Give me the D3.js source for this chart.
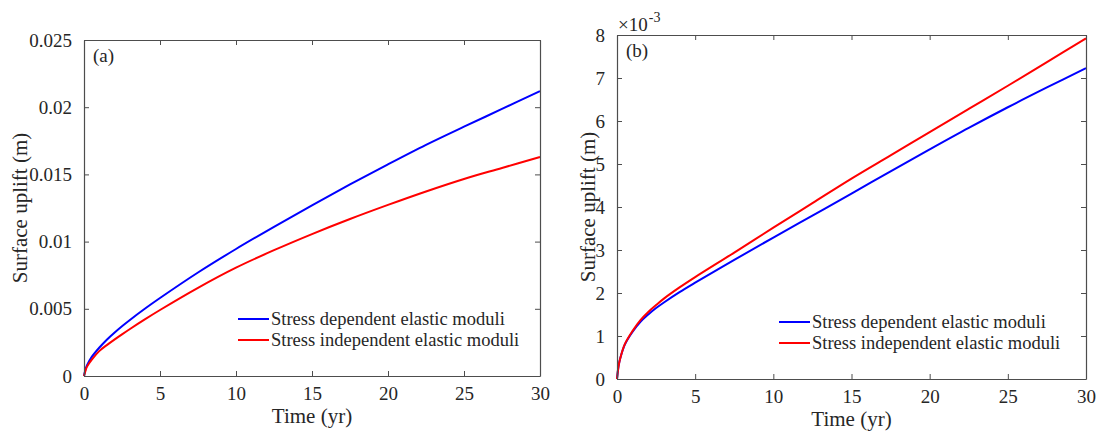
<!DOCTYPE html>
<html>
<head>
<meta charset="utf-8">
<script src="https://cdn.jsdelivr.net/npm/d3@7"></script>
</head>
<body style="margin:0;background:#fff">
<svg id="chart" width="1096" height="435" style="display:block"></svg>
<script>
// time samples (yr)
const timeYr = [0, 0.1, 0.2, 0.5, 1, 1.5, 2, 2.5, 3, 4, 5, 7.5, 10, 12.5, 15, 17.5, 20, 22.5, 25, 27.5, 30];

// panel (a) uplift (m)
const upliftA_dep = [0, 0.0005, 0.0008, 0.0014, 0.0021, 0.0027, 0.00322, 0.0037, 0.00415, 0.005, 0.0058,
  0.0077, 0.00945, 0.0111, 0.0127, 0.01425, 0.01575, 0.0172, 0.01855, 0.01987, 0.0212];
const upliftA_indep = [0, 0.0004, 0.0007, 0.0012, 0.00185, 0.0023, 0.00271, 0.0031, 0.00348, 0.00421, 0.00491,
  0.00656, 0.00806, 0.00936, 0.01056, 0.01168, 0.01273, 0.01373, 0.01466, 0.01548, 0.0163];

// panel (b) uplift (x10^-3 m)
const upliftB_dep = [0, 0.3, 0.47, 0.8, 1.1, 1.33, 1.5, 1.65, 1.78, 2.02, 2.24,
  2.77, 3.29, 3.8, 4.31, 4.83, 5.34, 5.84, 6.32, 6.78, 7.23];
const upliftB_indep = [0, 0.3, 0.47, 0.81, 1.12, 1.37, 1.56, 1.72, 1.87, 2.13, 2.37,
  2.94, 3.52, 4.09, 4.66, 5.2, 5.74, 6.28, 6.82, 7.37, 7.92];

const xTicks = [0, 5, 10, 15, 20, 25, 30];
const yTicksA = [0, 0.005, 0.01, 0.015, 0.02, 0.025];
const yTicksB = [0, 1, 2, 3, 4, 5, 6, 7, 8];
const seriesNames = ["Stress dependent elastic moduli", "Stress independent elastic moduli"];
const seriesColors = ["#0000ff", "#ff0000"];

const svg = d3.select("#chart");
const axisColor = "#4d4d4d";
const textColor = "#262626";
const serif = "'Liberation Serif'";

// helper: serif text with given size
function label(g, size) {
  return g.append("text")
    .style("font-family", serif)
    .style("font-size", size + "px")
    .attr("fill", textColor);
}

function drawPanel(p) {
  const g = svg.append("g");
  const x = d3.scaleLinear().domain([0, 30]).range([p.left, p.right]);
  const y = d3.scaleLinear().domain(p.yDomain).range([p.bottom, p.top]);

  // lines
  const line = d3.line()
    .x((d) => x(d[0]))
    .y((d) => y(d[1]))
    .curve(d3.curveCatmullRom.alpha(0.5));

  p.series.forEach((vals, i) => {
    g.append("path")
      .datum(timeYr.map((t, j) => [t, vals[j]]))
      .attr("fill", "none")
      .attr("stroke", seriesColors[i])
      .attr("stroke-width", 2)
      .attr("d", line);
  });

  // axes with inward ticks on all four sides
  const bottom = g.append("g").attr("transform", "translate(0," + p.bottom + ")")
    .call(d3.axisBottom(x).tickValues(xTicks).tickSizeInner(-5).tickSizeOuter(0).tickPadding(11));
  const top = g.append("g").attr("transform", "translate(0," + p.top + ")")
    .call(d3.axisTop(x).tickValues(xTicks).tickSizeInner(-5).tickSizeOuter(0).tickFormat(""));
  const left = g.append("g").attr("transform", "translate(" + p.left + ",0)")
    .call(d3.axisLeft(y).tickValues(p.yTicks).tickSizeInner(-5).tickSizeOuter(0).tickPadding(12)
      .tickFormat(p.yFormat));
  const right = g.append("g").attr("transform", "translate(" + p.right + ",0)")
    .call(d3.axisRight(y).tickValues(p.yTicks).tickSizeInner(-5).tickSizeOuter(0).tickFormat(""));

  [bottom, top, left, right].forEach((a) => {
    a.select(".domain").attr("stroke", axisColor).attr("stroke-width", 1.2);
    a.selectAll(".tick line").attr("stroke", axisColor);
    a.selectAll(".tick text")
      .style("font-family", serif)
      .style("font-size", "19px")
      .attr("fill", textColor);
  });

  // axis labels
  label(g, 21)
    .attr("x", (p.left + p.right) / 2)
    .attr("y", p.bottom + 47)
    .attr("text-anchor", "middle")
    .text("Time (yr)");

  label(g, 21)
    .attr("text-anchor", "middle")
    .attr("transform", "translate(" + p.yLabelX + "," + (p.top + p.bottom) / 2 + ")rotate(-90)")
    .text("Surface uplift (m)");

  // panel tag
  label(g, 19)
    .attr("x", p.left + 9)
    .attr("y", p.top + 22)
    .text(p.tag);

  // legend
  seriesNames.forEach((name, i) => {
    const ly = p.legendY + i * 21;
    g.append("line")
      .attr("x1", p.legendX).attr("x2", p.legendX + 31)
      .attr("y1", ly).attr("y2", ly)
      .attr("stroke", seriesColors[i])
      .attr("stroke-width", 2);
    label(g, 18.5)
      .attr("x", p.legendX + 33)
      .attr("y", ly + 6)
      .text(name);
  });

  return g;
}

drawPanel({
  left: 84, right: 540, top: 40, bottom: 376,
  yDomain: [0, 0.025], yTicks: yTicksA,
  yFormat: (d) => (d === 0 ? "0" : String(+d.toFixed(3))),
  series: [upliftA_dep, upliftA_indep],
  yLabelX: 27, tag: "(a)", legendX: 238, legendY: 319
});

const gb = drawPanel({
  left: 617, right: 1086, top: 35, bottom: 379,
  yDomain: [0, 8], yTicks: yTicksB,
  yFormat: d3.format("d"),
  series: [upliftB_dep, upliftB_indep],
  yLabelX: 595, tag: "(b)", legendX: 779, legendY: 322
});

// exponent label for panel (b)
const expo = label(gb, 19)
  .attr("x", 618)
  .attr("y", 31);
expo.append("tspan").text("\u00d710");
expo.append("tspan").attr("dy", -9).attr("dx", 1).style("font-size", "14px").text("-3");
</script>
</body>
</html>
